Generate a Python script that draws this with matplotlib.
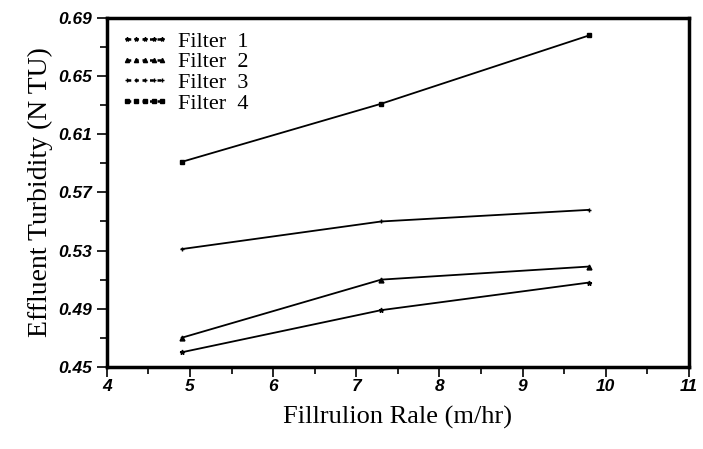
import matplotlib.pyplot as plt
from matplotlib.ticker import MultipleLocator, FixedLocator

# Filtration rate (m/hr) and effluent turbidity (NTU)
rate = [4.9, 7.3, 9.8]
filter1 = [0.460, 0.489, 0.508]
filter2 = [0.470, 0.510, 0.519]
filter3 = [0.531, 0.550, 0.558]
filter4 = [0.591, 0.631, 0.678]

yticks = [0.45, 0.49, 0.53, 0.57, 0.61, 0.65, 0.69]
yminor = [0.47, 0.51, 0.55, 0.59, 0.63, 0.67]
xticks = [4, 5, 6, 7, 8, 9, 10, 11]

series = [
    ("Filter  1", filter1, "*"),
    ("Filter  2", filter2, "^"),
    ("Filter  3", filter3, "+"),
    ("Filter  4", filter4, "s"),
]

fig = plt.figure(figsize=(7.03, 4.49), dpi=100)
ax = fig.add_axes([0.152, 0.183, 0.828, 0.777])

for label, vals, mk in series:
    ax.plot(rate, vals, color="black", lw=1.3, marker=mk, ms=3.5, mew=1)

# legend samples: dotted lines with markers, like the scanned original
handles = []
for label, vals, mk in series:
    h, = ax.plot([], [], color="black", ls=(0, (1.5, 1.5)), lw=1.8, marker=mk, ms=3,
                 label=label)
    handles.append(h)

ax.set_xlim(4, 11)
ax.set_ylim(0.45, 0.69)
ax.xaxis.set_major_locator(FixedLocator(xticks))
ax.xaxis.set_minor_locator(MultipleLocator(0.5))
ax.yaxis.set_major_locator(FixedLocator(yticks))
ax.yaxis.set_minor_locator(FixedLocator(yminor))
ax.yaxis.set_major_formatter(plt.FuncFormatter(lambda v, p: f"{v:.2f}"))

for s in ax.spines.values():
    s.set_linewidth(2.5)
ax.tick_params(which="major", direction="out", length=7, width=1.2)
ax.tick_params(which="minor", direction="out", length=5, width=1.2)
ax.tick_params(axis="x", pad=2)
for t in ax.get_xticklabels() + ax.get_yticklabels():
    t.set_family("Liberation Sans")
    t.set_fontweight("bold")
    t.set_fontstyle("italic")
    t.set_fontsize(12.5)

ax.set_xlabel("Fillrulion Rale (m/hr)", family="Liberation Serif", fontsize=19, labelpad=8)
ax.set_ylabel("Effluent Turbidity (N TU)", family="Liberation Serif", fontsize=20, labelpad=4)

ax.legend(handles=handles, loc="upper left", frameon=False,
          prop={"family": "Liberation Serif", "size": 16},
          handlelength=2.2, handletextpad=0.4, labelspacing=0.0,
          borderaxespad=0.2, numpoints=5)

fig.savefig("out.png", dpi=100)
